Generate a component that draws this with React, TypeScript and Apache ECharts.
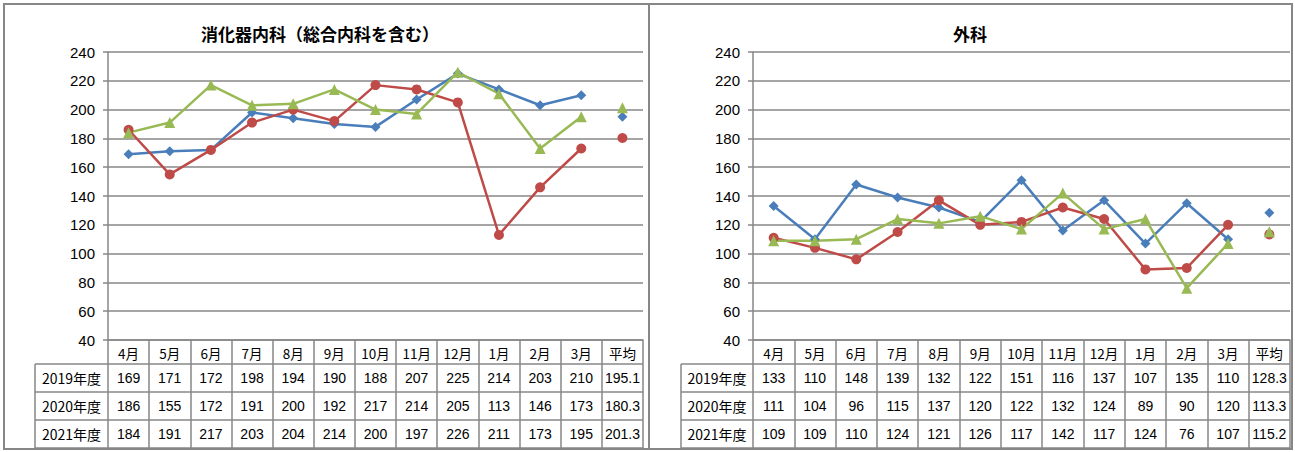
import React, { useEffect, useRef } from 'react';
import * as echarts from 'echarts';

const CATEGORIES = ['4月', '5月', '6月', '7月', '8月', '9月', '10月', '11月', '12月', '1月', '2月', '3月', '平均'];
const YEARS = ['2019年度', '2020年度', '2021年度'];
const TITLES = ['消化器内科（総合内科を含む）', '外科'];
const Y_TICKS = { min: 40, max: 240, interval: 20 };

// 消化器内科
const GI_2019 = [169, 171, 172, 198, 194, 190, 188, 207, 225, 214, 203, 210];
const GI_2020 = [186, 155, 172, 191, 200, 192, 217, 214, 205, 113, 146, 173];
const GI_2021 = [184, 191, 217, 203, 204, 214, 200, 197, 226, 211, 173, 195];
const GI_AVG = [195.1, 180.3, 201.3];

// 外科
const SURG_2019 = [133, 110, 148, 139, 132, 122, 151, 116, 137, 107, 135, 110];
const SURG_2020 = [111, 104, 96, 115, 137, 120, 122, 132, 124, 89, 90, 120];
const SURG_2021 = [109, 109, 110, 124, 121, 126, 117, 142, 117, 124, 76, 107];
const SURG_AVG = [128.3, 113.3, 115.2];

const PANELS = [
  { rows: [GI_2019, GI_2020, GI_2021], avg: GI_AVG },
  { rows: [SURG_2019, SURG_2020, SURG_2021], avg: SURG_AVG },
];

const COLORS = ['#4A7EBB', '#BE4B48', '#98B954'];
const SYMBOLS = ['diamond', 'circle', 'triangle'];
const SYMBOL_SIZES = [10, 10, 11];
const GRID_COLOR = '#878787';
const FONT_NUM = '"Liberation Sans", Arial, sans-serif';
const FONT_JP = '"Noto Sans CJK JP", "Liberation Sans", sans-serif';

export default function App() {
  const ref = useRef<HTMLDivElement>(null);

  useEffect(() => {
    if (!ref.current) return;
    const chart = echarts.init(ref.current, null, { renderer: 'svg' });

    const grids = [
      { left: 108, top: 52, width: 535, height: 288 },
      { left: 753, top: 52, width: 537, height: 288 },
    ];
    const frames = [
      { x: 4, y: 4, width: 645, height: 445, labelLeft: 35, titleX: 320 },
      { x: 649, y: 4, width: 643, height: 445, labelLeft: 681, titleX: 970 },
    ];

    const xAxis = grids.map((_, g) => ({
      type: 'category',
      gridIndex: g,
      data: CATEGORIES,
      boundaryGap: true,
      axisLine: { show: true, lineStyle: { color: GRID_COLOR, width: 1.5 } },
      axisTick: { show: true, length: 108, lineStyle: { color: GRID_COLOR, width: 1.5 } },
      axisLabel: { margin: 6, fontSize: 13.5, color: '#000', fontFamily: FONT_JP },
      splitLine: { show: false },
    }));
    const yAxis = grids.map((_, g) => ({
      type: 'value',
      gridIndex: g,
      min: Y_TICKS.min,
      max: Y_TICKS.max,
      interval: Y_TICKS.interval,
      axisLine: { show: true, lineStyle: { color: GRID_COLOR, width: 1.5 } },
      axisTick: { show: true, length: 5, lineStyle: { color: GRID_COLOR, width: 1.5 } },
      axisLabel: { margin: 13, fontSize: 15, color: '#000', fontFamily: FONT_NUM },
      splitLine: { show: true, lineStyle: { color: GRID_COLOR, width: 1.5 } },
    }));

    const series: any[] = [];
    PANELS.forEach((p, g) => {
      p.rows.forEach((vals, k) => {
        series.push({
          type: 'line',
          name: YEARS[k],
          xAxisIndex: g,
          yAxisIndex: g,
          data: vals,
          symbol: SYMBOLS[k],
          symbolSize: SYMBOL_SIZES[k],
          showAllSymbol: true,
          lineStyle: { color: COLORS[k], width: 2.5 },
          itemStyle: { color: COLORS[k], opacity: 1 },
        });
      });
      p.avg.forEach((v, k) => {
        series.push({
          type: 'scatter',
          name: YEARS[k],
          xAxisIndex: g,
          yAxisIndex: g,
          data: [[CATEGORIES.length - 1, v]],
          symbol: SYMBOLS[k],
          symbolSize: SYMBOL_SIZES[k],
          itemStyle: { color: COLORS[k], opacity: 1 },
        });
      });
    });

    chart.setOption({
      animation: false,
      backgroundColor: '#fff',
      grid: grids,
      xAxis,
      yAxis,
      series,
    });

    // Build data table and frames from the axes' pixel positions
    const graphic: any[] = [];
    PANELS.forEach((p, g) => {
      const f = frames[g];
      graphic.push({
        type: 'rect',
        shape: { x: f.x, y: f.y, width: f.width, height: f.height },
        style: { fill: 'none', stroke: GRID_COLOR, lineWidth: 2 },
        silent: true,
      });
      graphic.push({
        type: 'text',
        style: {
          text: TITLES[g],
          x: f.titleX,
          y: 33,
          align: 'center',
          verticalAlign: 'middle',
          fontSize: 17,
          fontWeight: 'bold',
          fontFamily: FONT_JP,
          fill: '#000',
        },
      });
      const baseY = chart.convertToPixel({ yAxisIndex: g } as any, Y_TICKS.min) as number;
      const left = grids[g].left;
      const right = grids[g].left + grids[g].width;
      const headerBottom = baseY + 24;
      const rowH = 28;
      for (let r = 0; r <= 3; r++) {
        const y = headerBottom + r * rowH;
        graphic.push({
          type: 'line',
          shape: { x1: f.labelLeft, y1: y, x2: right, y2: y },
          style: { stroke: GRID_COLOR, lineWidth: 1.5 },
          silent: true,
        });
      }
      graphic.push({
        type: 'line',
        shape: { x1: f.labelLeft, y1: headerBottom, x2: f.labelLeft, y2: headerBottom + 3 * rowH },
        style: { stroke: GRID_COLOR, lineWidth: 1.5 },
        silent: true,
      });
      const rows = p.rows.map((vals, k) => [...vals.map((v) => String(v)), p.avg[k].toFixed(1)]);
      rows.forEach((cells, k) => {
        const cy = headerBottom + k * rowH + rowH / 2;
        graphic.push({
          type: 'text',
          style: {
            text: YEARS[k],
            x: (f.labelLeft + left) / 2,
            y: cy,
            align: 'center',
            verticalAlign: 'middle',
            fontSize: 14,
            fontFamily: FONT_JP,
            fill: '#000',
          },
        });
        cells.forEach((txt, i) => {
          const cx = chart.convertToPixel({ xAxisIndex: g } as any, i) as number;
          graphic.push({
            type: 'text',
            style: {
              text: txt,
              x: cx,
              y: cy,
              align: 'center',
              verticalAlign: 'middle',
              fontSize: 14,
              fontFamily: FONT_NUM,
              fill: '#000',
            },
          });
        });
      });
    });

    chart.setOption({ graphic });

    return () => chart.dispose();
  }, []);

  return (
    <div
      ref={ref}
      style={{ position: 'fixed', left: 0, top: 0, width: 1295, height: 452, background: '#fff' }}
    />
  );
}
